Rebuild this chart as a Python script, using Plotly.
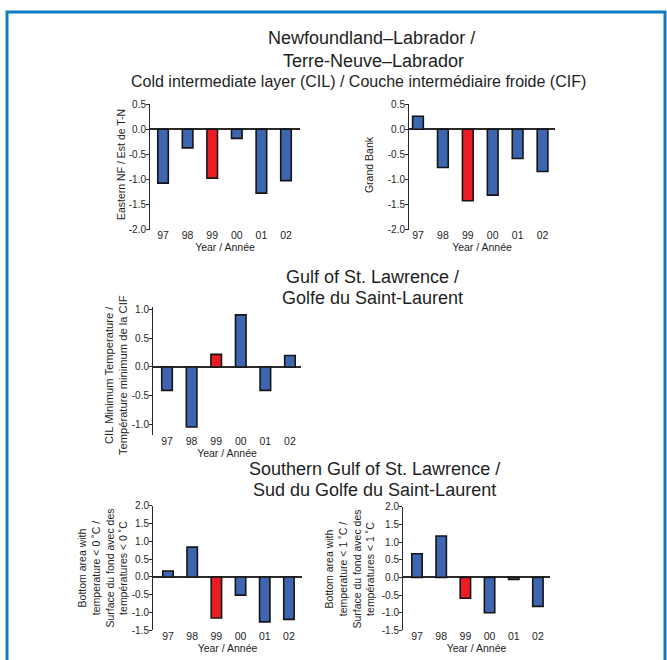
import plotly.graph_objects as go

# ---------------- data ----------------
years = ["97", "98", "99", "00", "01", "02"]
eastern_nf = [-1.07, -0.37, -0.97, -0.18, -1.27, -1.02]
grand_bank = [0.26, -0.76, -1.42, -1.31, -0.58, -0.84]
gulf_cil_min = [-0.41, -1.05, 0.22, 0.91, -0.41, 0.20]
sgulf_area_0c = [0.17, 0.84, -1.15, -0.51, -1.26, -1.19]
sgulf_area_1c = [0.67, 1.17, -0.59, -1.00, -0.06, -0.82]
highlight_year = "99"

ticks_nl = [-2.0, -1.5, -1.0, -0.5, 0.0, 0.5]
ticks_gulf = [-1.0, -0.5, 0.0, 0.5, 1.0]
ticks_sgulf = [-1.5, -1.0, -0.5, 0.0, 0.5, 1.0, 1.5, 2.0]

x_title = "Year / Année"
titles = {
    "nl1": "Newfoundland–Labrador /",
    "nl2": "Terre-Neuve–Labrador",
    "nl3": "Cold intermediate layer (CIL) / Couche intermédiaire froide (CIF)",
    "g1": "Gulf of St. Lawrence /",
    "g2": "Golfe du Saint-Laurent",
    "s1": "Southern Gulf of St. Lawrence /",
    "s2": "Sud du Golfe du Saint-Laurent",
}
y_titles = [
    "Eastern NF / Est de T-N",
    "Grand Bank",
    "CIL Minimum Temperature /<br>Température minimum de la CIF",
    "Bottom area with<br>temperature < 0 ˚C /<br>Surface du fond avec des<br>températures < 0 ˚C",
    "Bottom area with<br>temperature < 1 ˚C /<br>Surface du fond avec des<br>températures < 1 ˚C",
]

# ---------------- style ----------------
W, H = 667, 660
BLUE = "#3e66b0"
RED = "#ec1c24"
AXC = "#2a2a2a"
TXT = "#1e1e1e"
FONT = "Liberation Sans, Arial, sans-serif"


def px_x(p):
    return p / W


def px_y(p):
    return 1 - p / H


# panel geometry in pixels: (x0, x1, ytop, ybottom)
panels = [
    dict(vals=eastern_nf, box=(150, 300, 100, 228), yr=[-2.0, 0.5], xr=[-0.53, 5.57], ticks=ticks_nl),
    dict(vals=grand_bank, box=(409, 555, 100, 228), yr=[-2.0, 0.5], xr=[-0.36, 5.5], ticks=ticks_nl),
    dict(vals=gulf_cil_min, box=(153, 301, 307, 437), yr=[-1.19, 1.04], xr=[-0.57, 5.45], ticks=ticks_gulf),
    dict(vals=sgulf_area_0c, box=(153, 302, 509, 636), yr=[-1.5, 2.0], xr=[-0.62, 5.54], ticks=ticks_sgulf),
    dict(vals=sgulf_area_1c, box=(403, 550, 510, 636), yr=[-1.5, 2.0], xr=[-0.58, 5.5], ticks=ticks_sgulf),
]
ytitle_pos = [(121, 162, 10.5), (369, 162, 10.5), (116, 376, 11.2), (103, 573, 10.5), (350, 573, 10.5)]

fig = go.Figure()
layout = dict(
    width=W, height=H,
    margin=dict(l=0, r=0, t=0, b=0),
    paper_bgcolor="white", plot_bgcolor="rgba(0,0,0,0)",
    showlegend=False,
    font=dict(family=FONT, color=TXT, size=10),
)

annotations = []
for i, p in enumerate(panels, start=1):
    sfx = "" if i == 1 else str(i)
    colors = [RED if y == highlight_year else BLUE for y in years]
    fig.add_trace(go.Bar(
        x=years, y=p["vals"], xaxis="x" + sfx, yaxis="y" + sfx,
        marker=dict(color=colors, line=dict(color="#151515", width=1.6)),
        width=0.43,
    ))
    x0, x1, yt, yb = p["box"]
    layout["xaxis" + sfx] = dict(
        domain=[px_x(x0), px_x(x1)], anchor="y" + sfx,
        type="category", range=p["xr"],
        showline=False, ticks="", showgrid=False, zeroline=False,
        tickfont=dict(size=10.5, color=TXT),
        ticklabelstandoff=-2,
        title=dict(text=x_title, font=dict(size=10.5, color=TXT), standoff=0),
        fixedrange=True,
    )
    layout["yaxis" + sfx] = dict(
        domain=[px_y(yb), px_y(yt)], anchor="x" + sfx,
        range=p["yr"], showgrid=False,
        showline=True, linecolor=AXC, linewidth=1,
        ticks="outside", ticklen=3, tickcolor=AXC, tickwidth=1,
        tickmode="array", tickvals=p["ticks"],
        ticktext=[f"{v:.1f}" for v in p["ticks"]],
        tickfont=dict(size=10, color=TXT),
        ticklabelstandoff=-2,
        zeroline=True, zerolinecolor=AXC, zerolinewidth=1.5,
        fixedrange=True,
    )
    tx, ty, fs = ytitle_pos[i - 1]
    annotations.append(dict(
        text=y_titles[i - 1], xref="paper", yref="paper",
        x=px_x(tx), y=px_y(ty), xanchor="center", yanchor="middle",
        textangle=-90, showarrow=False, borderpad=0,
        font=dict(size=fs, color=TXT),
    ))

# section titles
for key, cx, cy, size in [
    ("nl1", 371, 33, 18), ("nl2", 373, 56, 18), ("nl3", 358, 77, 16),
    ("g1", 372, 276, 18), ("g2", 372, 297, 18),
    ("s1", 374, 472, 18), ("s2", 374, 493, 18),
]:
    annotations.append(dict(
        text=titles[key], xref="paper", yref="paper",
        x=px_x(cx), y=px_y(cy), xanchor="center", yanchor="middle",
        showarrow=False, borderpad=0, font=dict(size=size, color=TXT),
    ))

layout["annotations"] = annotations
layout["shapes"] = [dict(
    type="rect", xref="paper", yref="paper",
    x0=px_x(7), x1=px_x(665), y0=-0.1, y1=px_y(6),
    line=dict(color="#0a7cc1", width=3), fillcolor="rgba(0,0,0,0)",
)]

fig.update_layout(**layout)
fig.write_html("out.html")
